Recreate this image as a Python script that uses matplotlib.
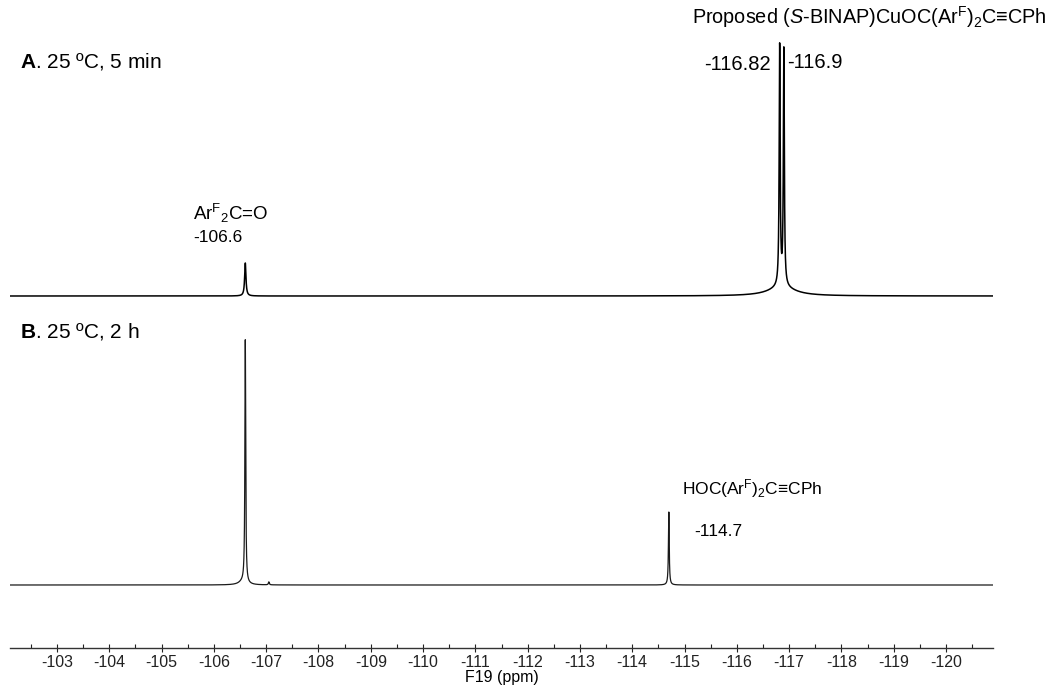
import numpy as np
import matplotlib
matplotlib.use("Agg")
import matplotlib.pyplot as plt
from matplotlib.ticker import MultipleLocator, FormatStrFormatter

plt.rcParams['font.family'] = ['Liberation Sans', 'DejaVu Sans']
plt.rcParams['mathtext.fontset'] = 'custom'
plt.rcParams['mathtext.rm'] = 'Liberation Sans'
plt.rcParams['mathtext.it'] = 'Liberation Sans:italic'
plt.rcParams['mathtext.bf'] = 'Liberation Sans:bold'

# 19F spectra: peak positions (ppm), intensities (a.u.), half-widths (ppm)
a_shift = [-106.6, -116.82, -116.9, -116.86]
a_height = [33, 240, 236, 9]
a_width = [0.015, 0.011, 0.011, 0.30]

b_shift = [-106.6, -106.55, -107.05, -114.7]
b_height = [243, 3, 3, 73]
b_width = [0.009, 0.09, 0.01, 0.009]

a_offset = 352
b_offset = 63

ppm_left, ppm_right = -102.1, -120.9
major_ticks = list(range(-103, -121, -1))


def spectrum(ppm, shifts, heights, widths):
    y = np.zeros_like(ppm)
    for c, h, w in zip(shifts, heights, widths):
        y += h / (1.0 + ((ppm - c) / w) ** 2)
    return y


ppm = np.linspace(ppm_left, ppm_right, 40000)

fig = plt.figure(figsize=(10.55, 6.85), dpi=100)
ax = fig.add_axes([10 / 1055, 37 / 685, 983 / 1055, 648 / 685])

ax.plot(ppm, a_offset + spectrum(ppm, a_shift, a_height, a_width),
        color='black', lw=1.1)
ax.plot(ppm, b_offset + spectrum(ppm, b_shift, b_height, b_width),
        color='#1a1a1a', lw=0.9)

ax.set_xlim(ppm_left, ppm_right)
ax.set_ylim(0, 648)
for s in ('top', 'left', 'right'):
    ax.spines[s].set_visible(False)
ax.spines['bottom'].set_linewidth(1.0)
ax.spines['bottom'].set_color('#333333')
ax.set_yticks([])
ax.set_xticks(major_ticks)
ax.xaxis.set_minor_locator(MultipleLocator(0.5))
ax.xaxis.set_major_formatter(FormatStrFormatter('%d'))
ax.tick_params(axis='x', which='major', direction='inout', length=6,
               width=0.8, labelsize=11.5, pad=2, colors='#222222')
ax.tick_params(axis='x', which='minor', direction='in', length=3, width=0.8,
               colors='#222222')
ax.set_xlabel('F19 (ppm)', fontsize=11.5, labelpad=0)

# spectrum headings
ax.text(-102.29, 586, r'$\mathbf{A}$. 25 ºC, 5 min', fontsize=15,
        va='center', ha='left')
ax.text(-102.29, 317, r'$\mathbf{B}$. 25 ºC, 2 h', fontsize=15,
        va='center', ha='left')

# peak annotations
ax.text(-115.14, 631,
        r'Proposed ($\mathit{S}$-BINAP)CuOC(Ar$^{\mathrm{F}}$)$_{2}$C≡CPh',
        fontsize=14.3, va='center', ha='left', clip_on=False)
ax.text(a_shift[1] + 0.18, 584, '-116.82', fontsize=14.5,
        va='center', ha='right')
ax.text(a_shift[2] - 0.06, 586, '-116.9', fontsize=14.5,
        va='center', ha='left')
ax.text(-105.6, 435, r'Ar$^{\mathrm{F}}$$_{2}$C=O', fontsize=13.5,
        va='center', ha='left')
ax.text(-105.6, 411, '-106.6', fontsize=12.5, va='center', ha='left')
ax.text(-114.95, 159, r'HOC(Ar$^{\mathrm{F}}$)$_{2}$C≡CPh', fontsize=12.5,
        va='center', ha='left')
ax.text(-115.18, 117, '-114.7', fontsize=12.5, va='center', ha='left')

fig.savefig('out.png', dpi=100)
